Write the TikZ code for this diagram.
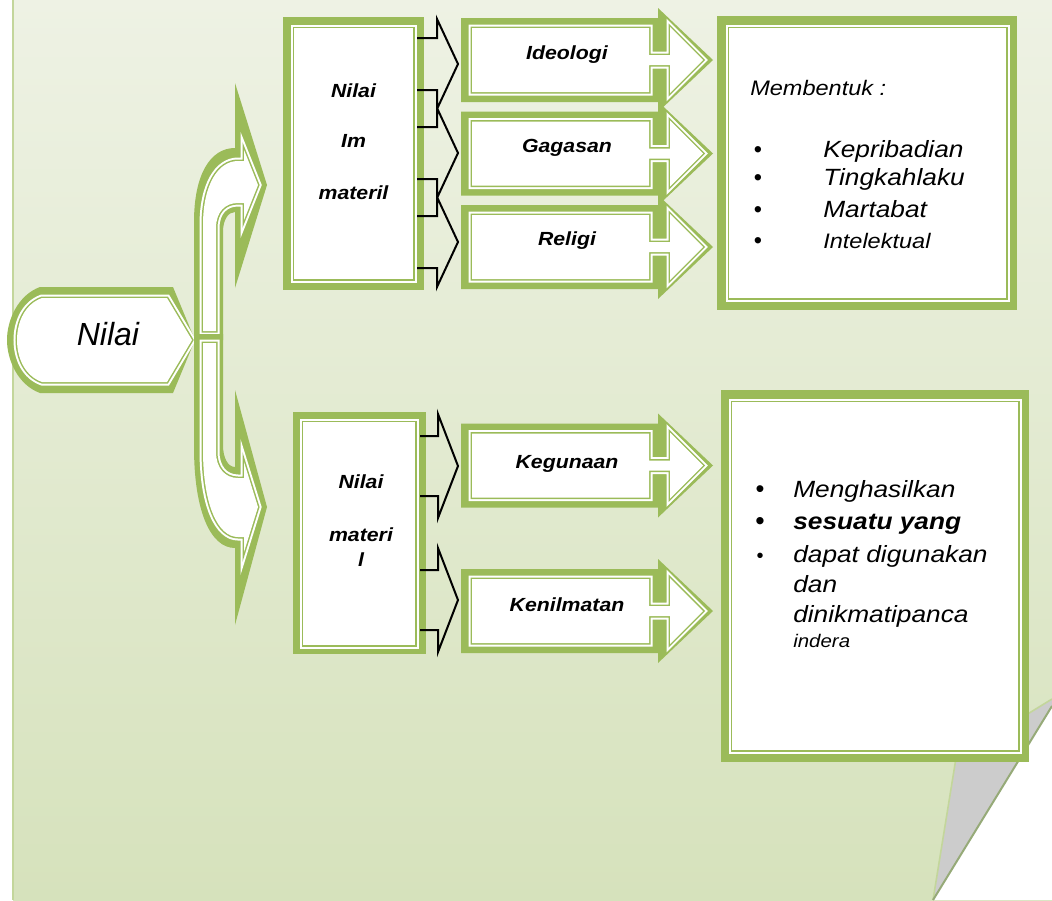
\documentclass[tikz,border=0pt]{standalone}
\usepackage{fontspec}
\setmainfont{Liberation Sans}
\newfontfamily\wf{Liberation Sans}[FakeStretch=1.12]
\definecolor{gr}{HTML}{9BBB59}
\definecolor{lgr}{HTML}{C3D69B}
\definecolor{pgtop}{RGB}{238,242,228}
\definecolor{pgbot}{RGB}{214,226,188}
\definecolor{foldgray}{RGB}{204,204,204}
\definecolor{dkline}{RGB}{150,170,120}
\newcommand\fb{\wf\bfseries\itshape\fontsize{14.25}{17}\selectfont}
\newcommand\fm{\wf\itshape\fontsize{15.75}{19}\selectfont}
\newcommand\fl{\wf\itshape\fontsize{17.6}{21}\selectfont}
\newcommand\fsm{\wf\itshape\fontsize{13.7}{16}\selectfont}
\newcommand\framed[2]{%
  \fill[gr] #1;
  \draw[white,line width=5.25pt] #2;
  \draw[gr,line width=2.25pt] #2;
  \fill[white] #2;}
\newcommand\blockarrow[1]{%
  \framed{(461,#1-42) -- (658,#1-42) -- (658,#1-52) -- (713,#1) -- (658,#1+52) -- (658,#1+42) -- (461,#1+42) -- cycle}
         {(472,#1-32) -- (649,#1-32) -- (649,#1-5) -- (670,#1-5) -- (670,#1-33) -- (703,#1) -- (670,#1+33) -- (670,#1+5) -- (649,#1+5) -- (649,#1+32) -- (472,#1+32) -- cycle}}
\tikzset{
  lbl/.style={anchor=base,inner sep=0pt},
  lw/.style={anchor=base west,inner sep=0pt},
  chev/.style={draw=black,line width=1.5pt,line join=miter}
}
\begin{document}
\begin{tikzpicture}[x=0.75pt,y=-0.75pt]
\useasboundingbox (0,0) rectangle (1052,900);
% page
\fill[white] (0,0) rectangle (1052,900);
\shade[top color=pgtop,bottom color=pgbot] (13,0) rectangle (1052,900);
\draw[lgr,line width=1.5pt] (13,0) -- (13,900);
% page fold
\fill[white] (933,900) -- (1052,706) -- (1052,900) -- cycle;
\fill[foldgray] (933,900) -- (956,758) -- (1052,699) -- (1052,706) -- cycle;
\draw[lgr,line width=1.2pt] (933,900) -- (956,758) -- (1052,699);
\draw[dkline,line width=1.5pt] (933,900) -- (1052,706);
% Nilai main shape
\framed{(40,287) -- (173,287) -- (195,340) -- (173,393) -- (40,393) .. controls (18,385) and (7,360) .. (7,340) .. controls (7,320) and (18,295) .. (40,287) -- cycle}
       {(42,298) -- (167,298) -- (192,340) -- (167,382) -- (42,382) .. controls (25,376) and (17,358) .. (17,340) .. controls (17,322) and (25,304) .. (42,298) -- cycle}
% curved arrows
\framed{(194,340) -- (194,222) .. controls (194,175) and (210,148) .. (235,148) -- (235,83) -- (267,185) -- (235,288) -- (235,212) .. controls (228,212) and (223,220) .. (223,232) -- (223,340) -- cycle}
       {(203,331) -- (203,225) .. controls (203,185) and (218,161) .. (238,161) -- (244,161) -- (244,150) -- (258,185) -- (244,220) -- (244,203) -- (238,203) .. controls (225,203) and (216,212) .. (216,228) -- (216,331) -- cycle}
\framed{(194,334) -- (194,447) .. controls (194,510) and (210,548) .. (235,548) -- (235,625) -- (267,507) -- (235,390) -- (235,467) .. controls (228,467) and (223,458) .. (223,445) -- (223,334) -- cycle}
       {(203,343) -- (203,450) .. controls (203,505) and (218,537) .. (238,537) -- (244,537) -- (244,552) -- (258,507) -- (244,462) -- (244,478) -- (238,478) .. controls (225,478) and (216,468) .. (216,452) -- (216,343) -- cycle}
% value boxes
\framed{(283,17) rectangle (424,290)}{(294,28) rectangle (413,279)}
\framed{(293,412) rectangle (426,654)}{(303,422) rectangle (415,645)}
% block arrows
\blockarrow{60}
\blockarrow{153.5}
\blockarrow{247}
\blockarrow{465.5}
\blockarrow{611}
% right boxes
\framed{(717,16) rectangle (1017,310)}{(729,28) rectangle (1006,298)}
\framed{(721,390) rectangle (1029,762)}{(732,402) rectangle (1018,750)}
% black chevrons
\foreach \c in {64,153,242}{
  \draw[chev] (417,\c-26) -- (437,\c-26) -- (437,\c-45) -- (458,\c) -- (437,\c+45) -- (437,\c+26) -- (417,\c+26);
}
\foreach \c in {466,600}{
  \draw[chev] (420,\c-30) -- (438,\c-30) -- (438,\c-52) -- (458,\c) -- (438,\c+52) -- (438,\c+30) -- (420,\c+30);
}
% texts
\node[lbl] (nilai) at (108,345) {\itshape\fontsize{24}{28}\selectfont Nilai};
\node[lbl] (n1) at (353.5,97) {\fb Nilai};
\node[lbl] (n2) at (353.5,147) {\fb Im};
\node[lbl] (n3) at (353.5,199) {\fb materil};
\node[lbl] (m1) at (361,488) {\fb Nilai};
\node[lbl] (m2) at (361,541) {\fb materi};
\node[lbl] (m3) at (361,566) {\fb l};
\node[lbl] (ideo) at (567,59) {\fb Ideologi};
\node[lbl] (gag) at (567,152) {\fb Gagasan};
\node[lbl] (rel) at (567,245) {\fb Religi};
\node[lbl] (keg) at (567,468) {\fb Kegunaan};
\node[lbl] (ken) at (567,611) {\fb Kenilmatan};
\node[lw] (mb) at (750,95) {\fm Membentuk :};
\foreach \y/\nm in {157/b1,185/b2,217/b3,248/b4}{
  \node[lbl] (\nm) at (758,\y) {\fontsize{17.6}{20}\selectfont •};
}
\node[lw] (k1) at (823,157) {\fl Kepribadian};
\node[lw] (k2) at (823,185) {\fl Tingkahlaku};
\node[lw] (k3) at (823,217) {\fl Martabat};
\node[lw] (k4) at (823,248) {\fm Intelektual};
\node[lbl] (c1) at (760,497) {\fontsize{19}{20}\selectfont •};
\node[lbl] (c2) at (760,529) {\fontsize{19}{20}\selectfont\bfseries •};
\node[lbl] (c3) at (760,562) {\fontsize{15}{18}\selectfont •};
\node[lw] (h1) at (793,497) {\fl Menghasilkan};
\node[lw] (h2) at (793,529) {\fl\bfseries sesuatu yang};
\node[lw] (h3) at (793,562) {\fl dapat digunakan};
\node[lw] (h4) at (793,592) {\fl dan};
\node[lw] (h5) at (793,622) {\fl dinikmatipanca};
\node[lw] (h6) at (793,647) {\fsm indera};
\end{tikzpicture}
\end{document}
